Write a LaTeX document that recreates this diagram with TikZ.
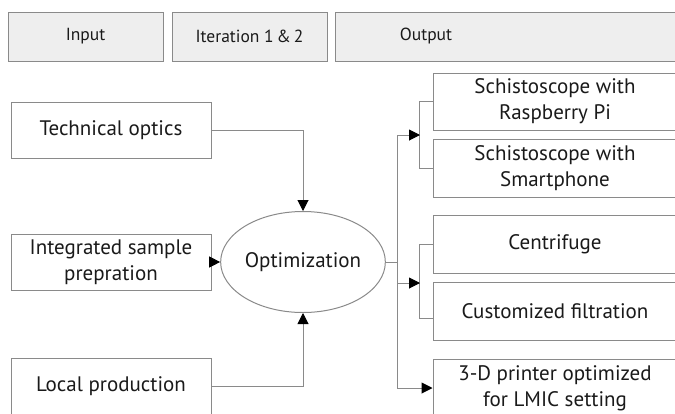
\documentclass[tikz,border=0pt]{standalone}
\usepackage{fontspec}
\setmainfont{PT Sans}
\usetikzlibrary{shapes.geometric,arrows.meta}
\definecolor{ln}{HTML}{8A8A8A}
\definecolor{hdr}{HTML}{EEEEEE}
\definecolor{txt}{HTML}{1A1A1A}
\begin{document}
\begin{tikzpicture}[x=1pt,y=-1pt,
  box/.style={draw=ln,line width=1pt,rectangle,inner sep=0pt,align=center,
    font=\fontsize{21}{26}\selectfont,text=txt},
  hdrbox/.style={box,fill=hdr,font=\fontsize{17.5}{21}\selectfont},
  conn/.style={draw=ln,line width=1pt},
  arr/.style={conn,-{Triangle[length=11pt,width=11pt,color=black]}}]
\useasboundingbox (0,0) rectangle (675,413);
\clip (0,0) rectangle (675,413);
\fill[white] (0,0) rectangle (675,413);
% headers
\node[hdrbox,minimum width=155pt,minimum height=49pt] (hIn) at (85.5,36.5) {Input};
\node[hdrbox,minimum width=155pt,minimum height=49pt] (hIt) at (249.5,36.5) {Iteration 1\kern-0.1em{} \&\kern-0.1em{} 2};
\node[hdrbox,minimum width=355pt,minimum height=49pt] (hOut) at (512.5,36.5) {};
\node[hdrbox,draw=none,fill=none] (hOutT) at (426,36.5) {Output};
% inputs
\node[box,minimum width=200pt,minimum height=56pt] (t1) at (111,130) {Technical optics};
\node[box,minimum width=200pt,minimum height=56pt] (t2) at (111,262) {Integrated sample\\prepration};
\node[box,minimum width=200pt,minimum height=56pt] (t3) at (111,386) {Local production};
% ellipse
\node[box,ellipse,minimum width=146pt,minimum height=101pt] (opt) at (303,262) {Optimization};
% outputs
\node[box,minimum width=244pt,minimum height=57pt] (o1) at (555,101.5) {Schistoscope with\\Raspberry Pi};
\node[box,minimum width=244pt,minimum height=58pt] (o2) at (555,168) {Schistoscope with\\Smartphone};
\node[box,minimum width=244pt,minimum height=58pt] (o3) at (555,244) {Centrifuge};
\node[box,minimum width=244pt,minimum height=58pt] (o4) at (555,311) {Customized filtration};
\node[box,minimum width=244pt,minimum height=58pt] (o5) at (555,388) {3-D printer optimized\\for LMIC setting};
% connectors in
\draw[arr] (t1.east) -| (opt.north);
\draw[arr] (t2.east) -- (opt.west);
\draw[arr] (t3.east) -| (opt.south);
% brackets
\draw[conn] (o1.west) -- ++(-13,0) |- (o2.west);
\draw[conn] (o3.west) -- ++(-13,0) |- ([yshift=-7pt]o4.west);
\coordinate (J) at (397,262);
\coordinate (b1) at (420,135);
\coordinate (b2) at (420,283);
\draw[conn] (opt.east) -- (J);
\draw[arr] (J) |- (b1);
\draw[arr] (J) |- (b2);
\draw[arr] (J) |- (o5.west);
\end{tikzpicture}
\end{document}
